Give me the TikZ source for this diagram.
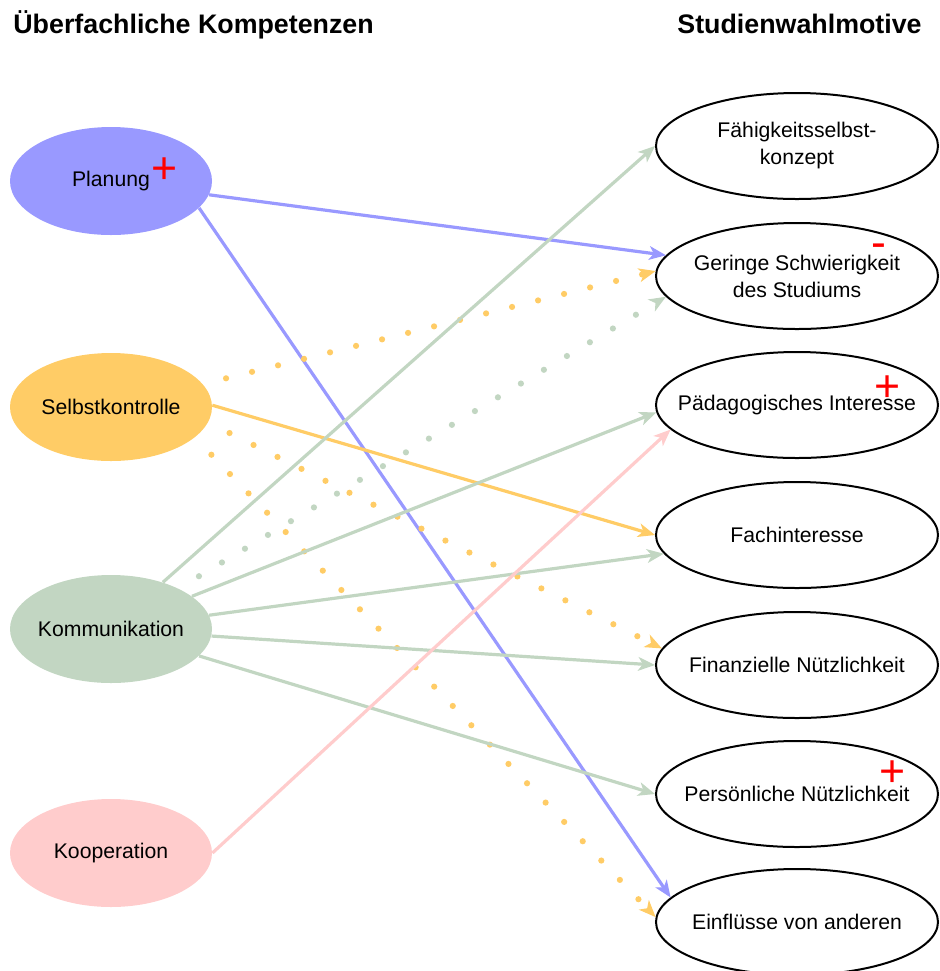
\documentclass[tikz,border=0pt]{standalone}
\usepackage{fontspec}
\setmainfont{Liberation Sans}
\usetikzlibrary{arrows.meta, shapes.geometric}
\definecolor{planblue}{HTML}{9999FF}
\definecolor{selborange}{HTML}{FFCC66}
\definecolor{kommgreen}{HTML}{C2D6C2}
\definecolor{kooppink}{HTML}{FFCCCC}

\begin{document}
\begin{tikzpicture}[x=0.5pt, y=-0.5pt,
  komp/.style={ellipse, minimum width=101pt, minimum height=54pt, inner ysep=0pt, inner xsep=-25pt, font=\fontsize{10.6}{13}\selectfont},
  motiv/.style={ellipse, draw, line width=1pt, minimum width=141pt, minimum height=53pt, inner ysep=0pt, inner xsep=-45pt, align=center, font=\fontsize{10.6}{13.5}\selectfont},
  link/.style={line width=1.6pt, -{Stealth[length=8.5pt, width=7pt, inset=2.4pt, line width=0.6pt]}},
  dotlink/.style={line width=3.1pt, line cap=round, dash pattern=on 0pt off 13.4pt, dash phase=1.5pt, -{Stealth[length=8.5pt, width=7pt, inset=2.4pt, line width=0.6pt]}},
  title/.style={font=\fontsize{13.4}{16}\selectfont\bfseries, inner sep=0pt, anchor=base west},
  sign/.style={text=red, font=\fontsize{22.3}{22.3}\selectfont, inner sep=0pt, anchor=base, text height=0.6em, text depth=0pt}]
  \useasboundingbox (0,0) rectangle (939,971);

  % titles
  \node[title] (titlekomp) at (13,33) {Überfachliche Kompetenzen};
  \node[title] (titlemotiv) at (677,33) {Studienwahlmotive};

  % left column
  \node[komp, fill=planblue] (planung) at (111,181) {Planung};
  \node[komp, fill=selborange] (selbst) at (111,407) {Selbstkontrolle};
  \node[komp, fill=kommgreen] (komm) at (111,629) {Kommunikation};
  \node[komp, fill=kooppink] (koop) at (111,853) {Kooperation};

  % right column
  \node[motiv] (faehig) at (797,146) {Fähigkeitsselbst-\\konzept};
  \node[motiv] (gering) at (797,276) {Geringe Schwierigkeit\\des Studiums};
  \node[motiv] (paed) at (797,405) {Pädagogisches Interesse};
  \node[motiv] (fach) at (797,535) {Fachinteresse};
  \node[motiv] (finanz) at (797,665) {Finanzielle Nützlichkeit};
  \node[motiv] (persoen) at (797,794) {Persönliche Nützlichkeit};
  \node[motiv] (einfl) at (797,922) {Einflüsse von anderen};

  % signs
  \node[sign] (plusplan) at (164.5,183) {+};
  \node[sign] (minusgering) at (879,257.5) {-};
  \node[sign] (pluspaed) at (888,401) {+};
  \node[sign] (pluspersoen) at (893,786) {+};

  % connectors
  \draw[link, planblue] (planung.-8) -- (gering.171);
  \draw[link, planblue] (planung.-17.6) -- (einfl.169.5);
  \draw[link, selborange] (selbst.1) -- (fach.180);
  \draw[dotlink, selborange] (selbst.14) -- (gering.178);
  \draw[dotlink, selborange] (selbst.-9) -- (finanz.173);
  \draw[dotlink, selborange] (selbst.-20) -- (einfl.178);
  \draw[dotlink, kommgreen] (komm.31) -- (gering.-171.5);
  \draw[link, kommgreen] (komm.42) -- (faehig.180);
  \draw[link, kommgreen] (komm.22) -- (paed.-177);
  \draw[link, kommgreen] (komm.8) -- (fach.-172);
  \draw[link, kommgreen] (komm.-4) -- (finanz.180);
  \draw[link, kommgreen] (komm.-17.6) -- (persoen.180);
  \draw[link, kooppink] (koop.0) -- (paed.-169.7);
\end{tikzpicture}
\end{document}
